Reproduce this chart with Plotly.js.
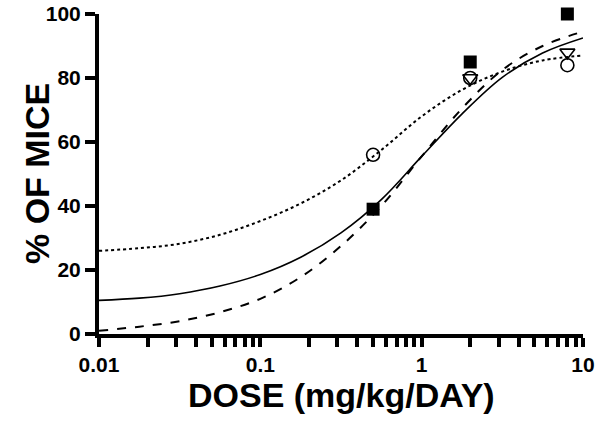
<!DOCTYPE html>
<html>
<head>
<meta charset="utf-8">
<script src="https://cdn.plot.ly/plotly-3.0.1.min.js"></script>
<style>html,body{margin:0;padding:0;background:#fff}#chart{width:600px;height:432px}</style>
</head>
<body>
<div id="chart"></div>
<script>
// Fitted curve readings at quarter-decade doses (mg/kg/day, % of mice)
var curveDose   = [0.01, 0.0178, 0.0316, 0.0562, 0.1, 0.178, 0.316, 0.562, 1, 1.78, 3.16, 5.62, 10];
var solidCurve  = [10.5, 11.2, 12.6, 15, 18.6, 24, 31.6, 42, 55.5, 68.8, 80.2, 87.8, 92.5];
var dashedCurve = [1, 2.3, 4, 6.8, 11, 17.8, 27.5, 40, 55.5, 70.5, 82.5, 90, 94.5];
var dottedCurve = [26, 26.8, 28.2, 31, 35.3, 40.8, 48, 57.5, 68, 76.3, 82, 85.5, 87];

// Observed points
var squareDose = [0.5, 2, 8];
var squarePct  = [39, 85, 100];
var circleDose = [0.5, 2, 8];
var circlePct  = [56, 80, 84];
var triDose    = [2, 8];
var triPct     = [80, 88];

var xMajorVals = [0.01, 0.1, 1, 10];
var xMajorText = ["0.01", "0.1", "1", "10"];
var yTickVals  = [0, 20, 40, 60, 80, 100];
var minorDigits = [2, 3, 4, 5, 6, 7, 8, 9];

// major + unlabeled minor ticks on the log axis
var xTickVals = [], xTickText = [];
xMajorVals.forEach(function (d, i) {
  xTickVals.push(d); xTickText.push(xMajorText[i]);
  if (d < 10) minorDigits.forEach(function (k) { xTickVals.push(d * k); xTickText.push(''); });
});

var lineTrace = function (y, dash, w) {
  return {x: curveDose, y: y, mode: 'lines', type: 'scatter', line: {color: '#000', width: w, dash: dash, shape: 'spline', smoothing: 1}, hoverinfo: 'skip', cliponaxis: false};
};

var data = [
  lineTrace(dottedCurve, 'dot', 2),
  lineTrace(dashedCurve, 'dash', 2),
  lineTrace(solidCurve, 'solid', 1.6),
  {x: circleDose, y: circlePct, mode: 'markers', type: 'scatter', cliponaxis: false,
   marker: {symbol: 'circle-open', size: 13, color: '#000', line: {width: 1.6, color: '#000'}}},
  {x: triDose, y: triPct, mode: 'markers', type: 'scatter', cliponaxis: false,
   marker: {symbol: 'triangle-down-open', size: 13, color: '#000', line: {width: 1.6, color: '#000'}}},
  {x: squareDose, y: squarePct, mode: 'markers', type: 'scatter', cliponaxis: false,
   marker: {symbol: 'square', size: 13, color: '#000'}}
];

var tickFont = {family: 'Liberation Sans, Arial, sans-serif', size: 21, color: '#000', weight: 'bold'};
var titleFont = {family: 'Liberation Sans, Arial, sans-serif', size: 34, color: '#000', weight: 'bold'};

var layout = {
  width: 600, height: 432,
  margin: {l: 99, r: 17, t: 14, b: 98},
  paper_bgcolor: '#fff', plot_bgcolor: '#fff',
  showlegend: false,
  font: {family: 'Liberation Sans, Arial, sans-serif', color: '#000'},
  xaxis: {
    type: 'log', range: [-2, 1],
    tickmode: 'array', tickvals: xTickVals, ticktext: xTickText,
    ticks: 'outside', ticklen: 9, tickwidth: 4, tickcolor: '#000',
    showline: true, linewidth: 4, linecolor: '#000',
    showgrid: false, zeroline: false,
    tickfont: tickFont
  },
  yaxis: {
    range: [0, 100],
    tickmode: 'array', tickvals: yTickVals,
    ticks: 'outside', ticklen: 10, tickwidth: 4, tickcolor: '#000',
    showline: true, linewidth: 4, linecolor: '#000',
    showgrid: false, zeroline: false,
    tickfont: tickFont
  },
  annotations: [
    {text: 'DOSE (mg/kg/DAY)', xref: 'paper', yref: 'paper', x: 0.5, y: -0.19,
     xanchor: 'center', yanchor: 'middle', showarrow: false, font: titleFont},
    {text: '% OF MICE', xref: 'paper', yref: 'paper', x: -0.128, y: 0.5, textangle: -90,
     xanchor: 'center', yanchor: 'middle', showarrow: false, font: titleFont}
  ]
};

Plotly.newPlot('chart', data, layout, {displayModeBar: false, staticPlot: true});
</script>
</body>
</html>
